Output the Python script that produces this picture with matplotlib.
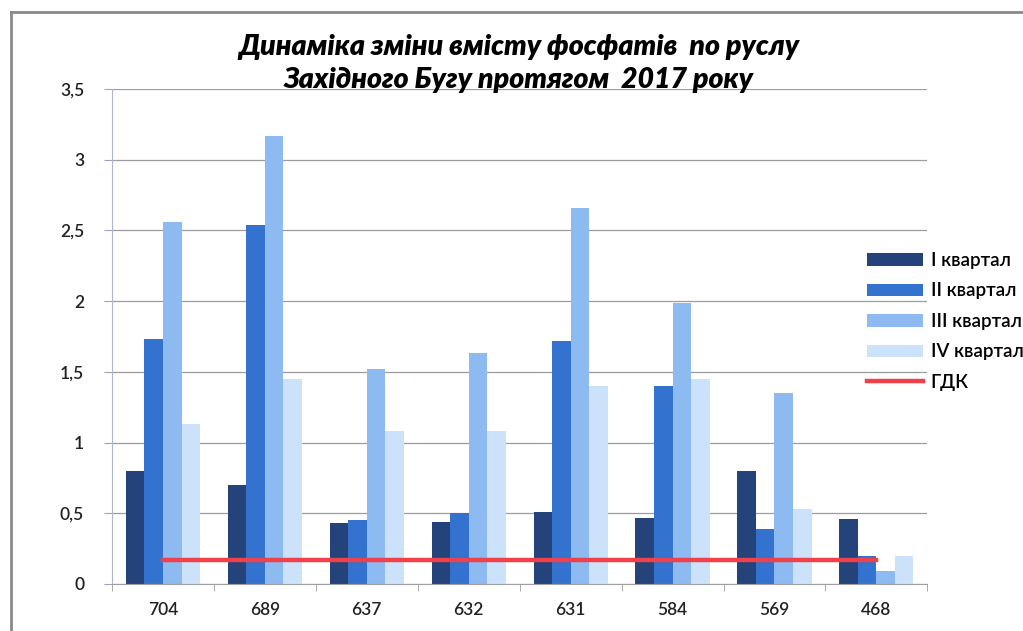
import numpy as np
import matplotlib.pyplot as plt
from matplotlib.lines import Line2D

# пункти спостереження (км від гирла) і вміст фосфатів по кварталах
stations = ["704", "689", "637", "632", "631", "584", "569", "468"]
q1 = [0.80, 0.70, 0.43, 0.44, 0.51, 0.47, 0.80, 0.46]
q2 = [1.73, 2.54, 0.45, 0.50, 1.72, 1.40, 0.39, 0.20]
q3 = [2.56, 3.17, 1.52, 1.63, 2.66, 1.99, 1.35, 0.09]
q4 = [1.13, 1.45, 1.08, 1.08, 1.40, 1.45, 0.53, 0.20]
gdk = [0.17] * len(stations)

series = [q1, q2, q3, q4]
names = ["I квартал", "II квартал", "III квартал", "IV квартал"]
colors = ["#23437A", "#3373CF", "#8DBAF0", "#CBE2FA"]

plt.rcParams['font.family'] = ['Lato', 'DejaVu Sans']

fig = plt.figure(figsize=(10.23, 6.31), dpi=100)
ax = fig.add_axes([0.1095, 0.0745, 0.797, 0.7845])

x = np.arange(len(stations))
w = 0.182
bars = []
for i, (vals, nm, c) in enumerate(zip(series, names, colors)):
    bars.append(ax.bar(x + (i - 1.5) * w, vals, w, color=c, label=nm, zorder=2))

line, = ax.plot(x, gdk, color="#F0414B", lw=3.2, label="ГДК", zorder=3)

ax.set_xlim(-0.5, len(stations) - 0.5)
ax.set_ylim(0, 3.5)
yt = np.arange(0, 3.51, 0.5)
ax.set_yticks(yt)
ax.set_yticklabels([("%g" % v).replace(".", ",") for v in yt],
                   fontsize=12.5, fontweight="semibold", color="#222222")
ax.set_xticks(x)
ax.set_xticklabels(stations, fontsize=12.5, fontweight="semibold", color="#222222")
ax.set_xticks(np.arange(-0.5, len(stations)), minor=True)
ax.tick_params(axis="x", which="major", length=0, pad=13)
ax.tick_params(axis="x", which="minor", length=5, color="#9a9a9a")
ax.tick_params(axis="y", length=6, color="#9aa4b8", pad=14)

ax.grid(axis="y", color="#9c9c9c", lw=0.9, zorder=0)
ax.set_axisbelow(True)
for s in ["top", "right"]:
    ax.spines[s].set_visible(False)
ax.spines["left"].set_color("#aeb6c8")
ax.spines["bottom"].set_color("#a0a0a0")

fig.text(0.507, 0.926, "Динаміка зміни вмісту фосфатів  по руслу",
         ha="center", va="center", fontsize=20.5, fontweight="heavy", style="italic")
fig.text(0.507, 0.873, "Західного Бугу протягом  2017 року",
         ha="center", va="center", fontsize=20.5, fontweight="heavy", style="italic")

ax.legend(bars + [line], names + ["ГДК"], loc="upper left",
          bbox_to_anchor=(0.905, 0.705), frameon=False,
          prop={"size": 13.5, "weight": "semibold"}, handlelength=3.0,
          handleheight=0.65, labelspacing=0.72, handletextpad=0.4)

# рамка навколо діаграми
fig.add_artist(Line2D([11 / 1023, 11 / 1023], [0, 1 - 12 / 631],
                      color="#8a8a8a", lw=2, transform=fig.transFigure))
fig.add_artist(Line2D([11 / 1023, 1], [1 - 12 / 631, 1 - 12 / 631],
                      color="#8a8a8a", lw=2, transform=fig.transFigure))

fig.savefig("out.png", dpi=100)
